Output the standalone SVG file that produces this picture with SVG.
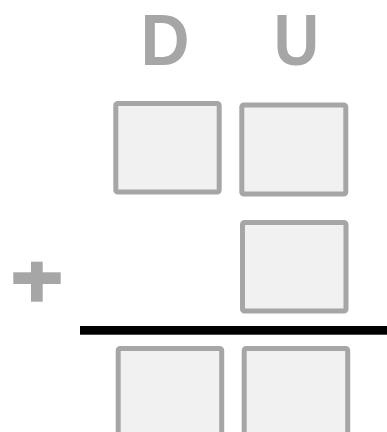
<svg xmlns="http://www.w3.org/2000/svg" width="387" height="432" viewBox="0 0 387 432">
<style>
.box{fill:#f1f1f1;stroke:#a6a6a6;stroke-width:5}
.lbl{fill:#a6a6a6;font-family:"Liberation Sans",Arial,sans-serif;font-weight:bold;font-size:73px;text-anchor:middle}
</style>
<rect width="387" height="432" fill="#ffffff"/>
<g id="label-D"><text class="lbl" x="165" y="64.5" textLength="49" lengthAdjust="spacingAndGlyphs">D</text></g>
<g id="label-U"><text class="lbl" x="296.5" y="64.5" textLength="45.3" lengthAdjust="spacingAndGlyphs">U</text></g>
<g id="box-d1"><rect class="box" x="115.8" y="103.5" width="103.4" height="88.5" rx="2"/></g>
<g id="box-u1"><rect class="box" x="241.8" y="105" width="104" height="89" rx="2"/></g>
<g id="plus"><rect x="13.3" y="272.3" width="47.4" height="11.7" fill="#a6a6a6"/><rect x="31" y="261.7" width="11.7" height="40" fill="#a6a6a6"/></g>
<g id="box-u2"><rect class="box" x="242.5" y="222.5" width="103.5" height="88.5" rx="2"/></g>
<g id="connectors"><rect x="80" y="326" width="307" height="8.7" fill="#000000"/></g>
<g id="box-d3"><rect class="box" x="118.2" y="348.5" width="103.5" height="100" rx="2"/></g>
<g id="box-u3"><rect class="box" x="244.2" y="348.5" width="103.5" height="100" rx="2"/></g>
</svg>
